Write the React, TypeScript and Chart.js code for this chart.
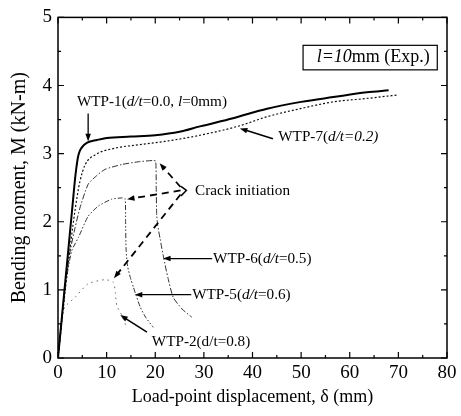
import React, { useEffect, useRef } from 'react';
import { Chart, registerables } from 'chart.js';
Chart.register(...registerables);

// ---- data (displacement mm, moment kN-m) ----
const wtp1X = [0, 1.2, 2.1, 3.0, 3.6, 4.2, 5.0, 6.0, 8.0, 10, 15, 20, 25, 29.2, 36, 43, 50, 56.6, 63.5, 68];
const wtp1Y = [0, 0.9, 1.57, 2.25, 2.69, 2.98, 3.1, 3.16, 3.2, 3.23, 3.25, 3.27, 3.32, 3.4, 3.52, 3.66, 3.76, 3.83, 3.9, 3.93];

const wtp7X = [0, 1.5, 3.1, 4.0, 4.5, 5.6, 7.6, 11.7, 16.5, 22, 29.2, 37.4, 42.9, 49.8, 56.6, 63.5, 69.7];
const wtp7Y = [0, 1.0, 1.96, 2.4, 2.59, 2.84, 2.98, 3.08, 3.13, 3.18, 3.27, 3.41, 3.54, 3.66, 3.76, 3.81, 3.86];

const wtp6X = [0, 1.5, 2.5, 3.5, 4.5, 6.2, 8.0, 9.7, 13.1, 16.5, 19.6, 20.1, 20.2, 20.3, 20.5, 21.0, 21.7, 22.6, 23.7, 25.5, 27.5];
const wtp6Y = [0, 1.1, 1.57, 1.91, 2.2, 2.55, 2.68, 2.77, 2.84, 2.88, 2.9, 2.89, 2.5, 2.1, 1.95, 1.75, 1.48, 1.18, 0.89, 0.72, 0.6];

const wtp5X = [0, 1.5, 2.8, 4.2, 6.2, 8.3, 11.0, 13.1, 13.8, 13.9, 14.0, 14.3, 15.0, 15.5, 16.9, 18.0, 19.6];
const wtp5Y = [0, 1.05, 1.57, 1.77, 2.08, 2.23, 2.33, 2.35, 2.34, 2.0, 1.6, 1.35, 1.15, 1.04, 0.75, 0.6, 0.45];

const wtp2X = [0, 0.8, 1.4, 3.5, 6.2, 9.7, 11.4, 11.8, 12.1, 13.1, 14.1];
const wtp2Y = [0, 0.6, 0.75, 0.89, 1.09, 1.15, 1.11, 0.95, 0.77, 0.63, 0.45];

const X_MIN = 0, X_MAX = 80, X_STEP = 10, X_MINOR = 5;
const Y_MIN = 0, Y_MAX = 5, Y_STEP = 1, Y_MINOR = 0.5;

const X_TITLE = 'Load-point displacement, δ (mm)';
const Y_TITLE = 'Bending moment, M (kN-m)';

const SERIF = "'Liberation Serif', 'DejaVu Serif', serif";

const pts = (xs: number[], ys: number[]) => xs.map((x, i) => ({ x, y: ys[i] }));

type Seg = [string, boolean];

function drawRich(ctx: CanvasRenderingContext2D, segs: Seg[], x: number, y: number, size: number) {
  ctx.save();
  ctx.textBaseline = 'middle';
  ctx.textAlign = 'left';
  ctx.fillStyle = '#000';
  let cx = x;
  for (const [t, it] of segs) {
    ctx.font = `${it ? 'italic ' : ''}${size}px ${SERIF}`;
    ctx.fillText(t, cx, y);
    cx += ctx.measureText(t).width;
  }
  ctx.restore();
  return cx;
}

function drawArrow(ctx: CanvasRenderingContext2D, x1: number, y1: number, x2: number, y2: number, dashed: boolean, width = 1.3, head = 8) {
  ctx.save();
  ctx.strokeStyle = '#000';
  ctx.fillStyle = '#000';
  ctx.lineWidth = width;
  const a = Math.atan2(y2 - y1, x2 - x1);
  const ex = x2 - Math.cos(a) * head * 0.7;
  const ey = y2 - Math.sin(a) * head * 0.7;
  ctx.setLineDash(dashed ? [7, 5] : []);
  ctx.beginPath();
  ctx.moveTo(x1, y1);
  ctx.lineTo(ex, ey);
  ctx.stroke();
  ctx.setLineDash([]);
  ctx.beginPath();
  ctx.moveTo(x2, y2);
  ctx.lineTo(x2 - head * Math.cos(a - 0.35), y2 - head * Math.sin(a - 0.35));
  ctx.lineTo(x2 - head * Math.cos(a + 0.35), y2 - head * Math.sin(a + 0.35));
  ctx.closePath();
  ctx.fill();
  ctx.restore();
}

const framePlugin = {
  id: 'frameTicks',
  afterDatasetsDraw(chart: any) {
    const { ctx, chartArea: ca, scales } = chart;
    const xs = scales.x, ys = scales.y;
    ctx.save();
    ctx.strokeStyle = '#000';
    ctx.lineWidth = 1.5;
    ctx.strokeRect(ca.left, ca.top, ca.right - ca.left, ca.bottom - ca.top);
    ctx.lineWidth = 1.2;
    ctx.beginPath();
    for (let v = X_MIN; v <= X_MAX + 1e-9; v += X_MINOR) {
      const major = Math.abs(v / X_STEP - Math.round(v / X_STEP)) < 1e-6;
      const L = major ? 6 : 3;
      const px = xs.getPixelForValue(v);
      ctx.moveTo(px, ca.bottom); ctx.lineTo(px, ca.bottom - L);
      ctx.moveTo(px, ca.top); ctx.lineTo(px, ca.top + L);
    }
    for (let v = Y_MIN; v <= Y_MAX + 1e-9; v += Y_MINOR) {
      const major = Math.abs(v / Y_STEP - Math.round(v / Y_STEP)) < 1e-6;
      const L = major ? 6 : 3;
      const py = ys.getPixelForValue(v);
      ctx.moveTo(ca.left, py); ctx.lineTo(ca.left + L, py);
      ctx.moveTo(ca.right, py); ctx.lineTo(ca.right - L, py);
    }
    ctx.stroke();
    ctx.restore();

    const X = (v: number) => xs.getPixelForValue(v);
    const Y = (v: number) => ys.getPixelForValue(v);
    const fs = 15.2;

    // Legend-like box
    ctx.save();
    ctx.strokeStyle = '#000';
    ctx.lineWidth = 1.2;
    const bx1 = X(50.4), bx2 = X(78), by1 = Y(4.59), by2 = Y(4.23);
    ctx.strokeRect(bx1, by1, bx2 - bx1, by2 - by1);
    ctx.restore();
    drawRich(ctx, [['l=10', true], ['mm (Exp.)', false]], X(53.2), Y(4.41), 18);

    // WTP-1
    drawRich(ctx, [['WTP-1(', false], ['d/t', true], ['=0.0, ', false], ['l', true], ['=0mm)', false]], X(3.9), Y(3.76), fs);
    drawArrow(ctx, X(6.2), Y(3.59), X(6.2), Y(3.18), false);

    // WTP-7
    drawRich(ctx, [['WTP-7(', false], ['d/t=0.2)', true]], X(45.3), Y(3.25), fs);
    drawArrow(ctx, X(44.2), Y(3.22), X(37.4), Y(3.37), false, 1.6);

    // Crack initiation
    drawRich(ctx, [['Crack initiation', false]], X(28.2), Y(2.45), fs);
    ctx.save();
    ctx.strokeStyle = '#000';
    ctx.lineWidth = 1.5;
    ctx.beginPath();
    ctx.moveTo(X(25.3), Y(2.52));
    ctx.lineTo(X(26.4), Y(2.46));
    ctx.lineTo(X(25.3), Y(2.38));
    ctx.stroke();
    ctx.restore();
    drawArrow(ctx, X(25.2), Y(2.51), X(20.9), Y(2.86), true, 1.8);
    drawArrow(ctx, X(25.2), Y(2.46), X(14.2), Y(2.33), true, 1.8);
    drawArrow(ctx, X(25.2), Y(2.4), X(11.5), Y(1.17), true, 1.8);

    // WTP-6
    drawRich(ctx, [['WTP-6(', false], ['d/t', true], ['=0.5)', false]], X(31.9), Y(1.46), fs);
    drawArrow(ctx, X(31.7), Y(1.46), X(21.6), Y(1.46), false);
    // WTP-5
    drawRich(ctx, [['WTP-5(', false], ['d/t', true], ['=0.6)', false]], X(27.6), Y(0.93), fs);
    drawArrow(ctx, X(27.4), Y(0.93), X(15.8), Y(0.93), false);
    // WTP-2
    drawRich(ctx, [['WTP-2(d/t=0.8)', false]], X(19.3), Y(0.23), fs);
    drawArrow(ctx, X(18.3), Y(0.38), X(12.8), Y(0.63), false, 1.6);
  },
};

export default function App() {
  const ref = useRef<HTMLCanvasElement>(null);
  useEffect(() => {
    document.body.style.margin = '0';
    const canvas = ref.current!;
    const chart = new Chart(canvas, {
      type: 'scatter',
      data: {
        datasets: [
          { label: 'WTP-1', data: pts(wtp1X, wtp1Y), showLine: true, borderColor: '#000', borderWidth: 2, pointRadius: 0, cubicInterpolationMode: 'monotone' },
          { label: 'WTP-7', data: pts(wtp7X, wtp7Y), showLine: true, borderColor: '#111', borderWidth: 1.2, borderDash: [2, 2], pointRadius: 0, cubicInterpolationMode: 'monotone' },
          { label: 'WTP-6', data: pts(wtp6X, wtp6Y), showLine: true, borderColor: '#333', borderWidth: 1, borderDash: [6, 2, 1.5, 2], pointRadius: 0, tension: 0.2 },
          { label: 'WTP-5', data: pts(wtp5X, wtp5Y), showLine: true, borderColor: '#333', borderWidth: 1, borderDash: [5, 2, 1.5, 2, 1.5, 2], pointRadius: 0, tension: 0.2 },
          { label: 'WTP-2', data: pts(wtp2X, wtp2Y), showLine: true, borderColor: '#666', borderWidth: 1, borderDash: [1.5, 4], pointRadius: 0, tension: 0.2 },
        ] as any,
      },
      options: {
        responsive: false,
        animation: false,
        layout: { padding: { top: 15, right: 14, left: 0, bottom: 0 } },
        plugins: { legend: { display: false }, tooltip: { enabled: false } },
        scales: {
          x: {
            type: 'linear', min: X_MIN, max: X_MAX,
            grid: { display: false, drawTicks: false },
            border: { display: false },
            ticks: { stepSize: X_STEP, color: '#000', padding: 4, font: { family: SERIF, size: 19 } },
            title: { display: true, text: X_TITLE, color: '#000', font: { family: SERIF, size: 18 }, padding: { top: 0, bottom: 8 } },
            afterFit: (s: any) => { s.height = 58; },
          },
          y: {
            type: 'linear', min: Y_MIN, max: Y_MAX,
            grid: { display: false, drawTicks: false },
            border: { display: false },
            ticks: { stepSize: Y_STEP, color: '#000', padding: 6, font: { family: SERIF, size: 19 } },
            title: { display: true, text: Y_TITLE, color: '#000', font: { family: SERIF, size: 20 }, padding: { top: 8, bottom: 0 } },
            afterFit: (s: any) => { s.width = 58; },
          },
        },
      } as any,
      plugins: [framePlugin],
    });
    return () => chart.destroy();
  }, []);
  return (
    <div style={{ width: 461, height: 416 }}>
      <canvas ref={ref} width={461} height={416} />
    </div>
  );
}
